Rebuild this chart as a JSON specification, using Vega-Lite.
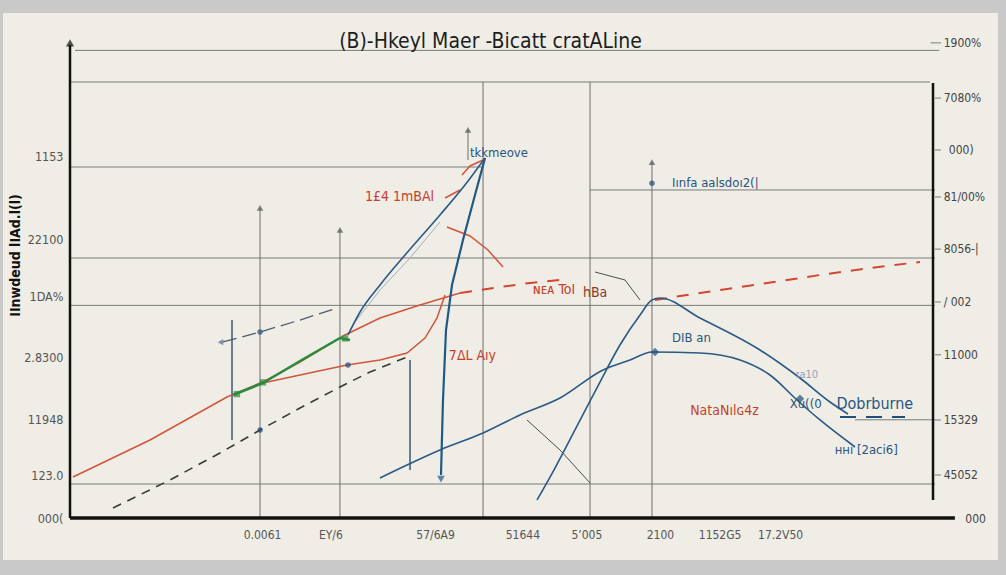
{
 "$schema": "https://vega.github.io/schema/vega-lite/v6.json",
 "width": 865, "height": 491, "autosize": "none",
 "padding": {"left": 70, "top": 27, "right": 71, "bottom": 57},
 "background": "#c9c9c9",
 "config": {"view": {"stroke": null}, "font": "Liberation Sans Narrow, DejaVu Sans Condensed, sans-serif"},
 "title": {"text": "(B)-Hkeyl Maer -Bicatt cratALine", "anchor": "middle", "offset": -39, "dx": -12, "fontSize": 21, "fontWeight": "normal", "color": "#1e1e1e", "font": "Liberation Sans Narrow, DejaVu Sans Condensed, sans-serif"},
 "datasets": {
  "bg": [{"x": -7.75, "x2": 107.28, "y": 108, "y2": -8.98}],
  "hrule": [
   {"x": 0.58, "x2": 100.5, "y": 100, "k": "top"},
   {"x": 0, "x2": 99.42, "y": 93.24, "k": "grid"},
   {"x": 0, "x2": 47.75, "y": 75.06, "k": "grid"},
   {"x": 60.12, "x2": 100, "y": 70.15, "k": "grid"},
   {"x": 0, "x2": 100, "y": 55.6, "k": "grid"},
   {"x": 0, "x2": 100, "y": 45.47, "k": "grid"},
   {"x": 0, "x2": 100, "y": 7.27, "k": "grid"},
   {"x": 90.75, "x2": 100, "y": 21.0, "k": "grid"},
   {"x": 99.5, "x2": 100.7, "y": 101.6, "k": "tick"},
   {"x": 100, "x2": 100.7, "y": 89.8, "k": "tick"},
   {"x": 100, "x2": 100.7, "y": 78.7, "k": "tick"},
   {"x": 100, "x2": 100.7, "y": 68.65, "k": "tick"},
   {"x": 100, "x2": 100.7, "y": 57.5, "k": "tick"},
   {"x": 100, "x2": 100.7, "y": 46.2, "k": "tick"},
   {"x": 100, "x2": 100.7, "y": 34.9, "k": "tick"},
   {"x": 100, "x2": 100.7, "y": 20.96, "k": "tick"},
   {"x": 100, "x2": 100.7, "y": 9.2, "k": "tick"},
   {"x": 0, "x2": 102.3, "y": 0, "k": "axis"}
  ],
  "vrule": [
   {"x": 47.75, "y": 93.24, "y2": 0, "k": "grid"},
   {"x": 60.12, "y": 93.24, "y2": 0, "k": "grid"},
   {"x": 21.97, "y": 66.3, "y2": 0, "k": "grid"},
   {"x": 31.21, "y": 61.6, "y2": 0, "k": "grid"},
   {"x": 67.28, "y": 76.1, "y2": 0, "k": "grid"},
   {"x": 46.01, "y": 82.98, "y2": 76.56, "k": "grid"},
   {"x": 18.73, "y": 42.34, "y2": 16.68, "k": "blue"},
   {"x": 39.31, "y": 33.79, "y2": 10.26, "k": "blue"},
   {"x": 0, "y": 101.2, "y2": 0, "k": "axis"},
   {"x": 99.77, "y": 93.03, "y2": 3.85, "k": "axis"}
  ],
  "lines": [
   {"s": "red", "o": 1, "x": 0.35, "y": 8.77},
   {"s": "red", "o": 2, "x": 9.25, "y": 16.68},
   {"s": "red", "o": 3, "x": 18.15, "y": 25.88},
   {"s": "red", "o": 4, "x": 22.54, "y": 29.3},
   {"s": "red", "o": 5, "x": 26.59, "y": 33.36},
   {"s": "red", "o": 6, "x": 31.79, "y": 39.14},
   {"s": "red", "o": 7, "x": 35.84, "y": 42.77},
   {"s": "red", "o": 8, "x": 40.46, "y": 45.55},
   {"s": "red", "o": 9, "x": 45.09, "y": 48.12},
   {"s": "red2", "o": 1, "x": 22.31, "y": 28.87},
   {"s": "red2", "o": 2, "x": 26.59, "y": 30.58},
   {"s": "red2", "o": 3, "x": 32.02, "y": 32.72},
   {"s": "red2", "o": 4, "x": 35.84, "y": 33.79},
   {"s": "red2", "o": 5, "x": 38.96, "y": 35.29},
   {"s": "red2", "o": 6, "x": 41.04, "y": 38.49},
   {"s": "red2", "o": 7, "x": 42.43, "y": 42.77},
   {"s": "red2", "o": 8, "x": 43.35, "y": 47.69},
   {"s": "redarrow", "o": 1, "x": 43.58, "y": 62.23},
   {"s": "redarrow", "o": 2, "x": 46.24, "y": 60.31},
   {"s": "redarrow", "o": 3, "x": 48.32, "y": 57.31},
   {"s": "redarrow", "o": 4, "x": 50.06, "y": 53.68},
   {"s": "redsmall", "o": 1, "x": 47.75, "y": 76.56},
   {"s": "redsmall", "o": 2, "x": 46.24, "y": 75.28},
   {"s": "redsmall", "o": 3, "x": 45.32, "y": 73.35},
   {"s": "redtick", "o": 1, "x": 43.35, "y": 68.43},
   {"s": "redtick", "o": 2, "x": 45.09, "y": 70.15},
   {"s": "reddash", "o": 1, "x": 45.09, "y": 48.12},
   {"s": "reddash", "o": 2, "x": 49.71, "y": 49.4},
   {"s": "reddash", "o": 3, "x": 53.18, "y": 50.26},
   {"s": "reddash", "o": 4, "x": 56.65, "y": 50.9},
   {"s": "reddash2", "o": 1, "x": 67.63, "y": 46.62},
   {"s": "reddash2", "o": 2, "x": 72.83, "y": 48.12},
   {"s": "reddash2", "o": 3, "x": 79.77, "y": 50.04},
   {"s": "reddash2", "o": 4, "x": 86.71, "y": 51.97},
   {"s": "reddash2", "o": 5, "x": 92.49, "y": 53.46},
   {"s": "reddash2", "o": 6, "x": 98.27, "y": 54.75},
   {"s": "blackdash", "o": 1, "x": 4.97, "y": 2.14},
   {"s": "blackdash", "o": 2, "x": 11.56, "y": 8.13},
   {"s": "blackdash", "o": 3, "x": 17.34, "y": 13.9},
   {"s": "blackdash", "o": 4, "x": 21.97, "y": 18.82},
   {"s": "blackdash", "o": 5, "x": 26.59, "y": 23.52},
   {"s": "blackdash", "o": 6, "x": 31.21, "y": 28.02},
   {"s": "blackdash", "o": 7, "x": 34.68, "y": 31.22},
   {"s": "blackdash", "o": 8, "x": 38.96, "y": 34.43},
   {"s": "greydash", "o": 1, "x": 17.69, "y": 37.64},
   {"s": "greydash", "o": 2, "x": 21.97, "y": 39.78},
   {"s": "greydash", "o": 3, "x": 26.59, "y": 42.34},
   {"s": "greydash", "o": 4, "x": 30.87, "y": 44.91},
   {"s": "green", "o": 1, "x": 18.84, "y": 26.3},
   {"s": "green", "o": 2, "x": 22.31, "y": 28.87},
   {"s": "green", "o": 3, "x": 26.59, "y": 33.58},
   {"s": "green", "o": 4, "x": 31.21, "y": 38.49},
   {"s": "green", "o": 5, "x": 32.37, "y": 38.07},
   {"s": "blueA", "o": 1, "x": 32.14, "y": 39.14},
   {"s": "blueA", "o": 2, "x": 33.53, "y": 44.05},
   {"s": "blueA", "o": 3, "x": 35.84, "y": 49.83},
   {"s": "blueA", "o": 4, "x": 38.73, "y": 56.24},
   {"s": "blueA", "o": 5, "x": 42.77, "y": 64.8},
   {"s": "blueA", "o": 6, "x": 45.66, "y": 71.21},
   {"s": "blueA", "o": 7, "x": 47.98, "y": 76.99},
   {"s": "blueC", "o": 1, "x": 35.84, "y": 8.55},
   {"s": "blueC", "o": 2, "x": 38.96, "y": 11.33},
   {"s": "blueC", "o": 3, "x": 42.77, "y": 14.54},
   {"s": "blueC", "o": 4, "x": 47.75, "y": 18.18},
   {"s": "blueC", "o": 5, "x": 52.02, "y": 22.03},
   {"s": "blueC", "o": 6, "x": 56.65, "y": 25.66},
   {"s": "blueC", "o": 7, "x": 61.62, "y": 31.65},
   {"s": "blueC", "o": 8, "x": 64.74, "y": 33.79},
   {"s": "blueC", "o": 9, "x": 67.28, "y": 35.5},
   {"s": "blueC", "o": 10, "x": 72.83, "y": 35.29},
   {"s": "blueC", "o": 11, "x": 77.46, "y": 33.79},
   {"s": "blueC", "o": 12, "x": 80.92, "y": 30.58},
   {"s": "blueC", "o": 13, "x": 84.05, "y": 25.24},
   {"s": "blueC", "o": 14, "x": 86.71, "y": 20.96},
   {"s": "blueC", "o": 15, "x": 90.75, "y": 15.18},
   {"s": "blueD", "o": 1, "x": 53.99, "y": 3.85},
   {"s": "blueD", "o": 2, "x": 56.07, "y": 10.69},
   {"s": "blueD", "o": 3, "x": 58.38, "y": 18.82},
   {"s": "blueD", "o": 4, "x": 61.27, "y": 29.08},
   {"s": "blueD", "o": 5, "x": 63.58, "y": 37.0},
   {"s": "blueD", "o": 6, "x": 65.9, "y": 43.41},
   {"s": "blueD", "o": 7, "x": 67.28, "y": 46.62},
   {"s": "blueD", "o": 8, "x": 68.21, "y": 47.05},
   {"s": "blueD", "o": 9, "x": 72.83, "y": 42.77},
   {"s": "blueD", "o": 10, "x": 79.77, "y": 35.93},
   {"s": "blueD", "o": 11, "x": 84.39, "y": 29.94},
   {"s": "blueD", "o": 12, "x": 87.86, "y": 24.81},
   {"s": "blueD", "o": 13, "x": 89.94, "y": 22.24},
   {"s": "blueB", "o": 1, "x": 47.98, "y": 76.99},
   {"s": "blueB", "o": 2, "x": 46.82, "y": 69.08},
   {"s": "blueB", "o": 3, "x": 45.43, "y": 59.45},
   {"s": "blueB", "o": 4, "x": 44.16, "y": 49.83},
   {"s": "blueB", "o": 5, "x": 43.47, "y": 40.21},
   {"s": "blueB", "o": 6, "x": 43.12, "y": 25.24},
   {"s": "blueB", "o": 7, "x": 42.89, "y": 9.2},
   {"s": "blueDash", "o": 1, "x": 89.02, "y": 21.6},
   {"s": "blueDash", "o": 2, "x": 96.53, "y": 21.6},
   {"s": "faint", "o": 1, "x": 32.95, "y": 41.92},
   {"s": "faint", "o": 2, "x": 35.84, "y": 48.76},
   {"s": "faint", "o": 3, "x": 39.31, "y": 55.6},
   {"s": "faint", "o": 4, "x": 42.77, "y": 63.3},
   {"s": "darkdiag", "o": 1, "x": 52.83, "y": 20.96},
   {"s": "darkdiag", "o": 2, "x": 56.65, "y": 14.54},
   {"s": "darkdiag", "o": 3, "x": 60.12, "y": 7.49},
   {"s": "grayarc", "o": 1, "x": 60.69, "y": 52.61},
   {"s": "grayarc", "o": 2, "x": 64.16, "y": 50.9},
   {"s": "grayarc", "o": 3, "x": 65.9, "y": 46.62}
  ],
  "pts": [
   {"k": "tri", "x": 21.97, "y": 66.3},
   {"k": "tri", "x": 31.21, "y": 61.6},
   {"k": "tri", "x": 67.28, "y": 76.1},
   {"k": "tri", "x": 46.01, "y": 83.0},
   {"k": "arrow", "x": 0, "y": 101.6},
   {"k": "tridown", "x": 42.89, "y": 8.3},
   {"k": "trileft", "x": 17.4, "y": 37.6},
   {"k": "dot", "x": 21.97, "y": 39.78},
   {"k": "dot", "x": 21.97, "y": 18.82},
   {"k": "dot", "x": 32.14, "y": 32.72},
   {"k": "dot", "x": 67.28, "y": 71.6},
   {"k": "star", "x": 67.63, "y": 35.5},
   {"k": "star", "x": 84.39, "y": 25.5},
   {"k": "green", "x": 22.31, "y": 29.0},
   {"k": "green", "x": 31.8, "y": 38.4},
   {"k": "green", "x": 19.3, "y": 26.5}
  ],
  "notes": [
   {"k": "blue", "x": 46.24, "y": 78.06, "t": "tkkmeove"},
   {"k": "red", "x": 34.1, "y": 68.6, "t": "1£4 1mBAl"},
   {"k": "red", "x": 53.5, "y": 48.8, "t": "ɴᴇᴀ ToI"},
   {"k": "dark", "x": 59.3, "y": 48.1, "t": "hBa"},
   {"k": "red", "x": 43.8, "y": 34.6, "t": "7ΔL Aıy"},
   {"k": "blue", "x": 69.6, "y": 38.5, "t": "DIB an"},
   {"k": "red", "x": 71.7, "y": 22.9, "t": "NataNılɢ4z"},
   {"k": "blue", "x": 83.2, "y": 24.4, "t": "Xu((0"},
   {"k": "blue", "x": 88.4, "y": 14.5, "t": "ннı [2aci6]"},
   {"k": "blue", "x": 69.6, "y": 71.6, "t": "Iınfa aalsdoı2(|"},
   {"k": "faint", "x": 83.9, "y": 30.6, "t": "ɪa10"},
   {"k": "big", "x": 88.6, "y": 24.4, "t": "Dobrburne"}
  ],
  "rlab": [
   {"x": 101.0, "y": 101.6, "t": "1900%"},
   {"x": 101.0, "y": 89.8, "t": "7080%"},
   {"x": 101.6, "y": 78.7, "t": "000)"},
   {"x": 101.0, "y": 68.65, "t": "81/00%"},
   {"x": 101.0, "y": 57.5, "t": "8056-|"},
   {"x": 101.0, "y": 46.2, "t": "/ 002"},
   {"x": 101.0, "y": 34.9, "t": "11000"},
   {"x": 101.0, "y": 20.96, "t": "15329"},
   {"x": 101.0, "y": 9.2, "t": "45052"},
   {"x": 103.5, "y": -0.2, "t": "000"}
  ]
 },
 "encoding": {
  "x": {"field": "x", "type": "quantitative",
   "scale": {"domain": [0, 100], "nice": false, "zero": false},
   "axis": {"values": [22.2, 30.1, 42.2, 52.3, 59.7, 68.2, 75.1, 82.1],
    "labelExpr": "datum.value==22.2?'0.0061':datum.value==30.1?'EY/6':datum.value==42.2?'57/6A9':datum.value==52.3?'51644':datum.value==59.7?'5’005':datum.value==68.2?'2100':datum.value==75.1?'1152G5':'17.2V50'",
    "domain": false, "ticks": false, "grid": false, "labelPadding": 11, "labelFontSize": 12, "labelColor": "#555555", "labelFont": "Liberation Sans Narrow, DejaVu Sans Condensed, sans-serif", "title": null, "zindex": 1}},
  "y": {"field": "y", "type": "quantitative",
   "scale": {"domain": [0, 105], "nice": false, "zero": false},
   "axis": {"values": [77.2, 59.5, 47.3, 34.4, 21, 9, 0],
    "labelExpr": "datum.value==77.2?'1153':datum.value==59.5?'22100':datum.value==47.3?'1DA%':datum.value==34.4?'2.8300':datum.value==21?'11948':datum.value==9?'123.0':'000('",
    "domain": false, "ticks": false, "grid": false, "labelPadding": 7, "labelFontSize": 12.5, "labelColor": "#555555", "labelFont": "Liberation Sans Narrow, DejaVu Sans Condensed, sans-serif",
    "title": "IInwdeud lIAd.l(l)", "titleX": -48, "titleY": 228, "titleFontSize": 14, "titleFontWeight": "bold", "titleColor": "#111111", "titleFont": "Liberation Sans Narrow, DejaVu Sans Condensed, sans-serif", "zindex": 1}}
 },
 "layer": [
  {"data": {"name": "bg"}, "mark": {"type": "rect", "fill": "#efede6"}, "encoding": {"x2": {"field": "x2"}, "y2": {"field": "y2"}}},
  {"data": {"name": "hrule"}, "transform": [{"filter": "datum.k != 'axis'"}], "mark": {"type": "rule", "color": "#7a7a7a", "strokeWidth": 1}, "encoding": {"x2": {"field": "x2"}}},
  {"data": {"name": "vrule"}, "transform": [{"filter": "datum.k == 'grid'"}], "mark": {"type": "rule", "color": "#6e6e6e", "strokeWidth": 1}, "encoding": {"y2": {"field": "y2"}}},
  {"data": {"name": "vrule"}, "transform": [{"filter": "datum.k == 'blue'"}], "mark": {"type": "rule", "color": "#3d5873", "strokeWidth": 1.5}, "encoding": {"y2": {"field": "y2"}}},
  {"data": {"name": "hrule"}, "transform": [{"filter": "datum.k == 'axis'"}], "mark": {"type": "rule", "color": "#111111", "strokeWidth": 3.5}, "encoding": {"x2": {"field": "x2"}}},
  {"data": {"name": "vrule"}, "transform": [{"filter": "datum.k == 'axis'"}], "mark": {"type": "rule", "color": "#111111", "strokeWidth": 2.5}, "encoding": {"y2": {"field": "y2"}}},
  {"data": {"name": "lines"}, "transform": [{"filter": "datum.s == 'faint'"}], "mark": {"type": "line", "color": "#9fb0c0", "strokeWidth": 1}, "encoding": {"detail": {"field": "s"}, "order": {"field": "o", "type": "quantitative"}}},
  {"data": {"name": "lines"}, "transform": [{"filter": "indexof(['darkdiag','grayarc'], datum.s) >= 0"}], "mark": {"type": "line", "color": "#4d4d4d", "strokeWidth": 1}, "encoding": {"detail": {"field": "s"}, "order": {"field": "o", "type": "quantitative"}}},
  {"data": {"name": "lines"}, "transform": [{"filter": "datum.s == 'blackdash'"}], "mark": {"type": "line", "color": "#3a3a3a", "strokeWidth": 1.6, "strokeDash": [9, 7]}, "encoding": {"order": {"field": "o", "type": "quantitative"}}},
  {"data": {"name": "lines"}, "transform": [{"filter": "datum.s == 'greydash'"}], "mark": {"type": "line", "color": "#4f5b6b", "strokeWidth": 1.3, "strokeDash": [14, 6]}, "encoding": {"order": {"field": "o", "type": "quantitative"}}},
  {"data": {"name": "lines"}, "transform": [{"filter": "indexof(['red','red2','redarrow','redsmall','redtick'], datum.s) >= 0"}], "mark": {"type": "line", "color": "#d2553a", "strokeWidth": 1.5}, "encoding": {"detail": {"field": "s"}, "order": {"field": "o", "type": "quantitative"}}},
  {"data": {"name": "lines"}, "transform": [{"filter": "indexof(['reddash','reddash2'], datum.s) >= 0"}], "mark": {"type": "line", "color": "#d4462e", "strokeWidth": 2, "strokeDash": [12, 10]}, "encoding": {"detail": {"field": "s"}, "order": {"field": "o", "type": "quantitative"}}},
  {"data": {"name": "lines"}, "transform": [{"filter": "datum.s == 'green'"}], "mark": {"type": "line", "color": "#2b8a3e", "strokeWidth": 2.5}, "encoding": {"order": {"field": "o", "type": "quantitative"}}},
  {"data": {"name": "lines"}, "transform": [{"filter": "indexof(['blueA','blueC','blueD'], datum.s) >= 0"}], "mark": {"type": "line", "color": "#2a5a85", "strokeWidth": 1.6, "interpolate": "monotone"}, "encoding": {"detail": {"field": "s"}, "order": {"field": "o", "type": "quantitative"}}},
  {"data": {"name": "lines"}, "transform": [{"filter": "datum.s == 'blueB'"}], "mark": {"type": "line", "color": "#1f5a85", "strokeWidth": 2.2}, "encoding": {"order": {"field": "o", "type": "quantitative"}}},
  {"data": {"name": "lines"}, "transform": [{"filter": "datum.s == 'blueDash'"}], "mark": {"type": "line", "color": "#1f4f7a", "strokeWidth": 2, "strokeDash": [16, 10]}, "encoding": {"order": {"field": "o", "type": "quantitative"}}},
  {"data": {"name": "pts"}, "transform": [{"filter": "datum.k == 'tri'"}], "mark": {"type": "point", "shape": "triangle-up", "filled": true, "color": "#555555", "size": 45}},
  {"data": {"name": "pts"}, "transform": [{"filter": "datum.k == 'arrow'"}], "mark": {"type": "point", "shape": "triangle-up", "filled": true, "color": "#111111", "size": 70}},
  {"data": {"name": "pts"}, "transform": [{"filter": "datum.k == 'tridown'"}], "mark": {"type": "point", "shape": "triangle-down", "filled": true, "color": "#1f5a85", "size": 60}},
  {"data": {"name": "pts"}, "transform": [{"filter": "datum.k == 'trileft'"}], "mark": {"type": "point", "shape": "triangle-left", "filled": true, "color": "#4f6b8a", "size": 40}},
  {"data": {"name": "pts"}, "transform": [{"filter": "datum.k == 'dot'"}], "mark": {"type": "point", "shape": "circle", "filled": true, "color": "#1f4f7a", "size": 30}},
  {"data": {"name": "pts"}, "transform": [{"filter": "datum.k == 'star'"}], "mark": {"type": "point", "shape": "diamond", "filled": true, "color": "#1f4f7a", "size": 70}},
  {"data": {"name": "pts"}, "transform": [{"filter": "datum.k == 'green'"}], "mark": {"type": "point", "shape": "square", "filled": true, "color": "#2b8a3e", "size": 40}},
  {"data": {"name": "notes"}, "transform": [{"filter": "datum.k == 'red'"}], "mark": {"type": "text", "align": "left", "baseline": "middle", "fontSize": 14, "color": "#c8402a"}, "encoding": {"text": {"field": "t"}}},
  {"data": {"name": "notes"}, "transform": [{"filter": "datum.k == 'dark'"}], "mark": {"type": "text", "align": "left", "baseline": "middle", "fontSize": 14, "color": "#8a3a2a"}, "encoding": {"text": {"field": "t"}}},
  {"data": {"name": "notes"}, "transform": [{"filter": "datum.k == 'blue'"}], "mark": {"type": "text", "align": "left", "baseline": "middle", "fontSize": 13, "color": "#2a5580"}, "encoding": {"text": {"field": "t"}}},
  {"data": {"name": "notes"}, "transform": [{"filter": "datum.k == 'faint'"}], "mark": {"type": "text", "align": "left", "baseline": "middle", "fontSize": 11, "color": "#8fa3b8"}, "encoding": {"text": {"field": "t"}}},
  {"data": {"name": "notes"}, "transform": [{"filter": "datum.k == 'big'"}], "mark": {"type": "text", "align": "left", "baseline": "middle", "fontSize": 16, "color": "#2a5580"}, "encoding": {"text": {"field": "t"}}},
  {"data": {"name": "rlab"}, "mark": {"type": "text", "align": "left", "baseline": "middle", "fontSize": 12, "color": "#444444"}, "encoding": {"text": {"field": "t"}}}
 ]
}
